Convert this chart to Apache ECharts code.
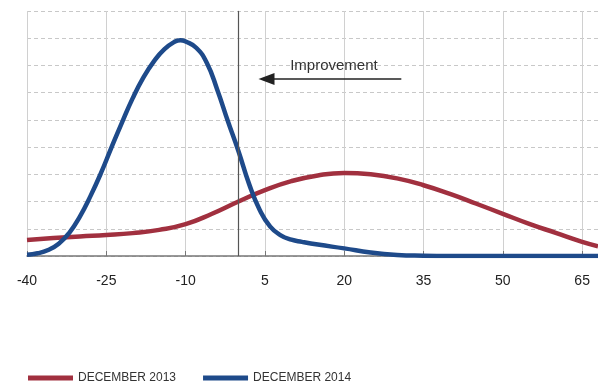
<!DOCTYPE html>
<html>
<head>
<meta charset="utf-8">
<script src="https://cdn.jsdelivr.net/npm/echarts@6/dist/echarts.min.js"></script>
<style>
  html, body { margin: 0; padding: 0; background: #fff; }
  #chart { width: 598px; height: 385px; }
</style>
</head>
<body>
<div id="chart"></div>
<script>
// x ticks shown on the axis
const xTicks = [-40, -25, -10, 5, 20, 35, 50, 65];

// December 2013 (red) distribution
const x2013 = [-40, -35, -30, -25, -20, -15, -10, -5, 0, 5, 10, 15, 20, 25, 30, 35, 40, 45, 50, 55, 60, 65, 68];
const y2013 = [0.59, 0.66, 0.72, 0.77, 0.84, 0.96, 1.17, 1.55, 2.0, 2.42, 2.75, 2.96, 3.05, 3.0, 2.85, 2.6, 2.28, 1.92, 1.55, 1.18, 0.85, 0.52, 0.36];

// December 2014 (blue) distribution
const x2014 = [-40, -38, -36, -34, -32, -30, -28, -26, -24, -22, -20, -18, -16, -14, -12, -11, -10, -8, -6, -4, -2, 0, 2, 4, 6, 8, 10, 12, 15, 20, 25, 30, 35, 40, 68];
const y2014 = [0.05, 0.1, 0.22, 0.45, 0.85, 1.45, 2.2, 3.05, 4.0, 4.92, 5.8, 6.55, 7.15, 7.6, 7.88, 7.93, 7.88, 7.65, 7.1, 6.1, 4.95, 3.85, 2.65, 1.7, 1.08, 0.76, 0.6, 0.52, 0.42, 0.28, 0.13, 0.04, 0.01, 0, 0];

const names = ['DECEMBER 2013', 'DECEMBER 2014'];
const colors = ['#a1303f', '#1e4a8a'];

const chart = echarts.init(document.getElementById('chart'));

const pairs = (xs, ys) => xs.map((x, i) => [x, ys[i]]);

const option = {
  backgroundColor: '#fff',
  animation: false,
  grid: { left: 27, right: 0, top: 11, bottom: 129 },
  legend: {
    left: 23,
    top: 367,
    itemWidth: 45,
    itemHeight: 5,
    itemGap: 27,
    icon: 'rect',
    textStyle: {
      fontFamily: 'Liberation Sans',
      fontSize: 12,
      color: '#333'
    },
    data: names
  },
  xAxis: {
    type: 'value',
    min: -40,
    max: 68,
    interval: 15,
    axisLine: { lineStyle: { color: '#777', width: 1.5 } },
    axisTick: { show: true, inside: true, length: 5, lineStyle: { color: '#777' } },
    axisLabel: {
      margin: 18,
      fontFamily: 'Liberation Sans',
      fontSize: 14,
      color: '#222',
      showMaxLabel: false,
      formatter: v => (xTicks.indexOf(v) >= 0 ? String(v) : '')
    },
    splitLine: { show: true, lineStyle: { color: '#d0d0d0', width: 1 } }
  },
  yAxis: {
    type: 'value',
    min: 0,
    max: 9,
    interval: 1,
    axisLine: { show: true, lineStyle: { color: '#d0d0d0' } },
    axisTick: { show: false },
    axisLabel: { show: false },
    splitLine: { show: true, lineStyle: { color: '#c8c8c8', type: [4, 3] } }
  },
  series: [
    {
      name: names[0],
      type: 'line',
      smooth: 0.5,
      showSymbol: false,
      color: colors[0],
      lineStyle: { width: 4.5, color: colors[0] },
      data: pairs(x2013, y2013),
      z: 2,
      markLine: {
        silent: true,
        symbol: ['none', 'none'],
        label: { show: false },
        lineStyle: { color: '#555', width: 1.2, type: 'solid' },
        data: [{ xAxis: 0 }]
      }
    },
    {
      name: names[1],
      type: 'line',
      smooth: 0.5,
      showSymbol: false,
      color: colors[1],
      lineStyle: { width: 4.5, color: colors[1] },
      data: pairs(x2014, y2014),
      z: 3,
      markLine: {
        silent: true,
        symbol: ['none', 'triangle'],
        symbolSize: [12, 16],
        lineStyle: { color: '#222', width: 1.5, type: 'solid' },
        label: {
          show: true,
          position: 'middle',
          formatter: 'Improvement',
          distance: 6,
          fontFamily: 'Liberation Sans',
          fontSize: 15,
          color: '#333'
        },
        data: [
          [{ coord: [30.8, 6.5] }, { coord: [5.3, 6.5] }]
        ]
      }
    }
  ]
};

chart.setOption(option);
</script>
</body>
</html>
